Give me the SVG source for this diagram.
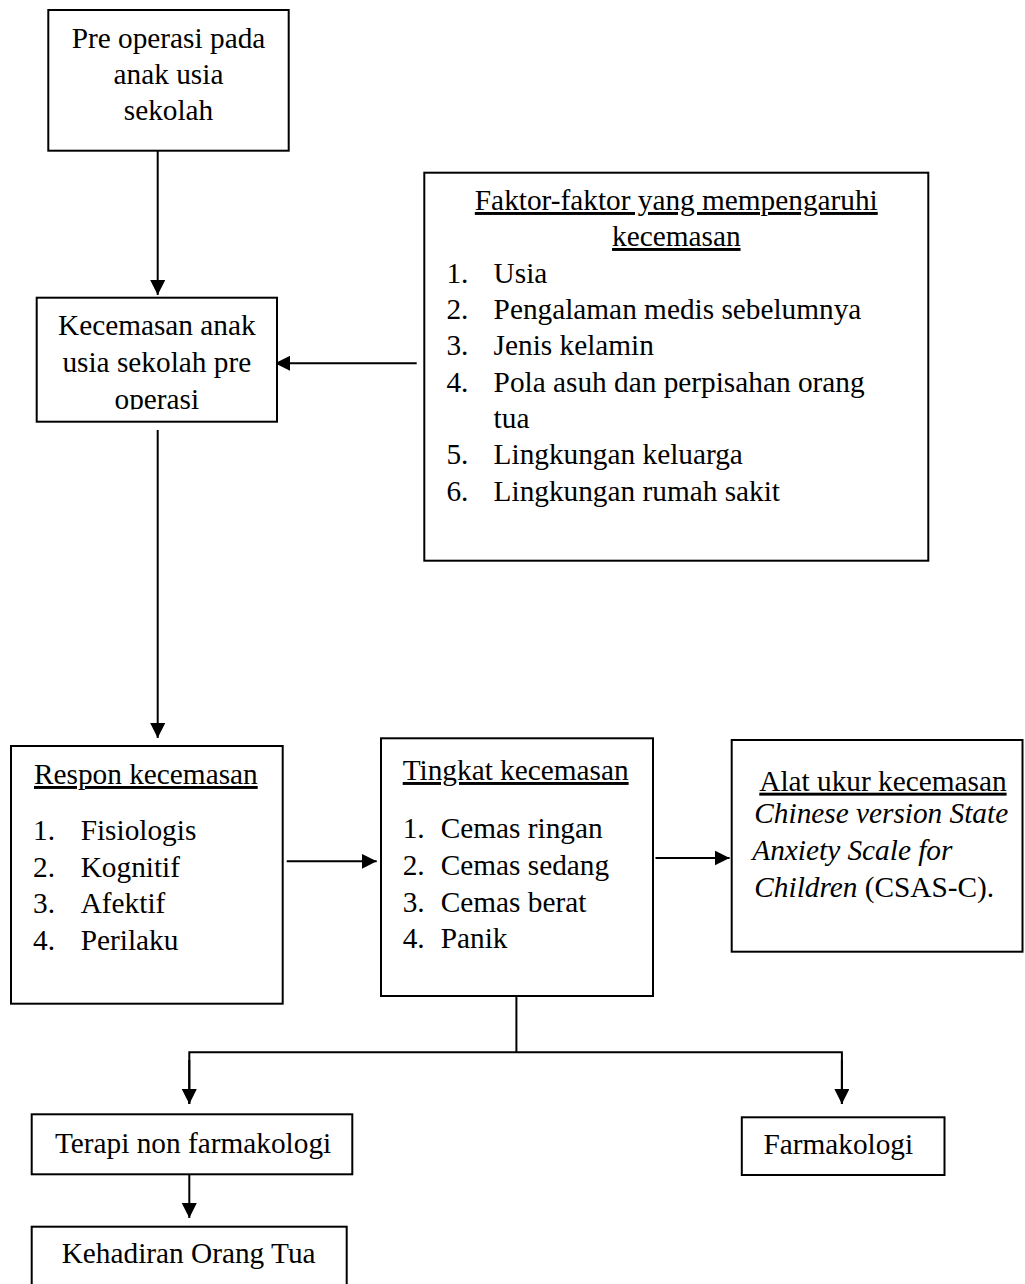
<svg xmlns="http://www.w3.org/2000/svg" width="1025" height="1284" viewBox="0 0 1025 1284">
<style>
  .box { fill: #ffffff; stroke: #000000; stroke-width: 2; }
  .conn { fill: none; stroke: #000000; stroke-width: 2; }
  text { font-family: "Liberation Serif", "Times New Roman", serif; font-size: 29.3px; fill: #000000; }
  .c { text-anchor: middle; }
  .u { text-decoration: underline; }
  .i { font-style: italic; }
</style>
<defs>
  <marker id="arrow" viewBox="0 0 15 15" refX="15" refY="7.5" markerWidth="15" markerHeight="15" markerUnits="userSpaceOnUse" orient="auto">
    <path d="M0,0 L15,7.5 L0,15 Z" fill="#000000"/>
  </marker>
  <clipPath id="clip2">
    <rect x="36" y="297" width="242" height="112.5"/>
  </clipPath>
</defs>
<rect width="1025" height="1284" fill="#ffffff"/>

<g id="connectors">
  <line class="conn" x1="157.7" y1="151" x2="157.7" y2="295" marker-end="url(#arrow)"/>
  <line class="conn" x1="416.7" y1="363.3" x2="275" y2="363.3" marker-end="url(#arrow)"/>
  <line class="conn" x1="157.7" y1="430" x2="157.7" y2="738" marker-end="url(#arrow)"/>
  <line class="conn" x1="286.7" y1="861.3" x2="376.7" y2="861.3" marker-end="url(#arrow)"/>
  <line class="conn" x1="655.5" y1="858" x2="729.6" y2="858" marker-end="url(#arrow)"/>
  <polyline class="conn" points="516.4,996 516.4,1052.3"/>
  <polyline class="conn" points="189.3,1104 189.3,1052.3 841.9,1052.3 841.9,1104"/>
  <line class="conn" x1="189.3" y1="1060" x2="189.3" y2="1104" marker-end="url(#arrow)"/>
  <line class="conn" x1="841.9" y1="1060" x2="841.9" y2="1104" marker-end="url(#arrow)"/>
  <line class="conn" x1="189.3" y1="1174.3" x2="189.3" y2="1218" marker-end="url(#arrow)"/>
</g>

<g id="pre-operasi">
  <rect class="box" x="48.3" y="10" width="240.4" height="140.7"/>
  <text class="c" x="168.5" y="48.3">Pre operasi pada</text>
  <text class="c" x="168.5" y="83.5">anak usia</text>
  <text class="c" x="168.5" y="120">sekolah</text>
</g>

<g id="kecemasan-anak">
  <rect class="box" x="36.7" y="297.7" width="240.3" height="124"/>
  <g clip-path="url(#clip2)">
    <text class="c" x="156.8" y="335">Kecemasan anak</text>
    <text class="c" x="156.8" y="371.7">usia sekolah pre</text>
    <text class="c" x="156.8" y="409">operasi</text>
  </g>
</g>

<g id="faktor">
  <rect class="box" x="424.3" y="172.7" width="504" height="388"/>
  <text class="c u" x="676.3" y="210">Faktor-faktor yang mempengaruhi</text>
  <text class="c u" x="676.3" y="246">kecemasan</text>
  <text x="446.4" y="282.7">1.</text><text x="493.6" y="282.7">Usia</text>
  <text x="446.4" y="318.5">2.</text><text x="493.6" y="318.5">Pengalaman medis sebelumnya</text>
  <text x="446.4" y="355">3.</text><text x="493.6" y="355">Jenis kelamin</text>
  <text x="446.4" y="391.7">4.</text><text x="493.6" y="391.7">Pola asuh dan perpisahan orang</text>
  <text x="493.6" y="427.7">tua</text>
  <text x="446.4" y="464.3">5.</text><text x="493.6" y="464.3">Lingkungan keluarga</text>
  <text x="446.4" y="500.7">6.</text><text x="493.6" y="500.7">Lingkungan rumah sakit</text>
</g>

<g id="respon">
  <rect class="box" x="11" y="746" width="271.7" height="257.7"/>
  <text class="u" x="34" y="784">Respon kecemasan</text>
  <text x="33" y="840">1.</text><text x="80.7" y="840">Fisiologis</text>
  <text x="33" y="876.7">2.</text><text x="80.7" y="876.7">Kognitif</text>
  <text x="33" y="913">3.</text><text x="80.7" y="913">Afektif</text>
  <text x="33" y="950">4.</text><text x="80.7" y="950">Perilaku</text>
</g>

<g id="tingkat">
  <rect class="box" x="381" y="738.3" width="272" height="257.7"/>
  <text class="u" x="402.7" y="780">Tingkat kecemasan</text>
  <text x="402.7" y="838.3">1.</text><text x="440.7" y="838.3">Cemas ringan</text>
  <text x="402.7" y="875">2.</text><text x="440.7" y="875">Cemas sedang</text>
  <text x="402.7" y="911.7">3.</text><text x="440.7" y="911.7">Cemas berat</text>
  <text x="402.7" y="948.3">4.</text><text x="440.7" y="948.3">Panik</text>
</g>

<g id="alat-ukur">
  <rect class="box" x="731.7" y="740" width="290.8" height="211.7"/>
  <text class="u" x="759.3" y="790.7">Alat ukur kecemasan</text>
  <text class="i" x="754.3" y="823.3">Chinese version State</text>
  <text class="i" x="752.3" y="860">Anxiety Scale for</text>
  <text x="754.3" y="896.7"><tspan class="i">Children</tspan> (CSAS-C).</text>
</g>

<g id="terapi-non-farmakologi">
  <rect class="box" x="31.7" y="1114.3" width="320.6" height="60"/>
  <text x="55" y="1153.3">Terapi non farmakologi</text>
</g>

<g id="farmakologi">
  <rect class="box" x="741.8" y="1117.3" width="202.7" height="57.7"/>
  <text x="763.4" y="1154">Farmakologi</text>
</g>

<g id="kehadiran">
  <rect class="box" x="31.7" y="1226.7" width="315" height="80"/>
  <text x="61.7" y="1263.3">Kehadiran Orang Tua</text>
</g>
</svg>
